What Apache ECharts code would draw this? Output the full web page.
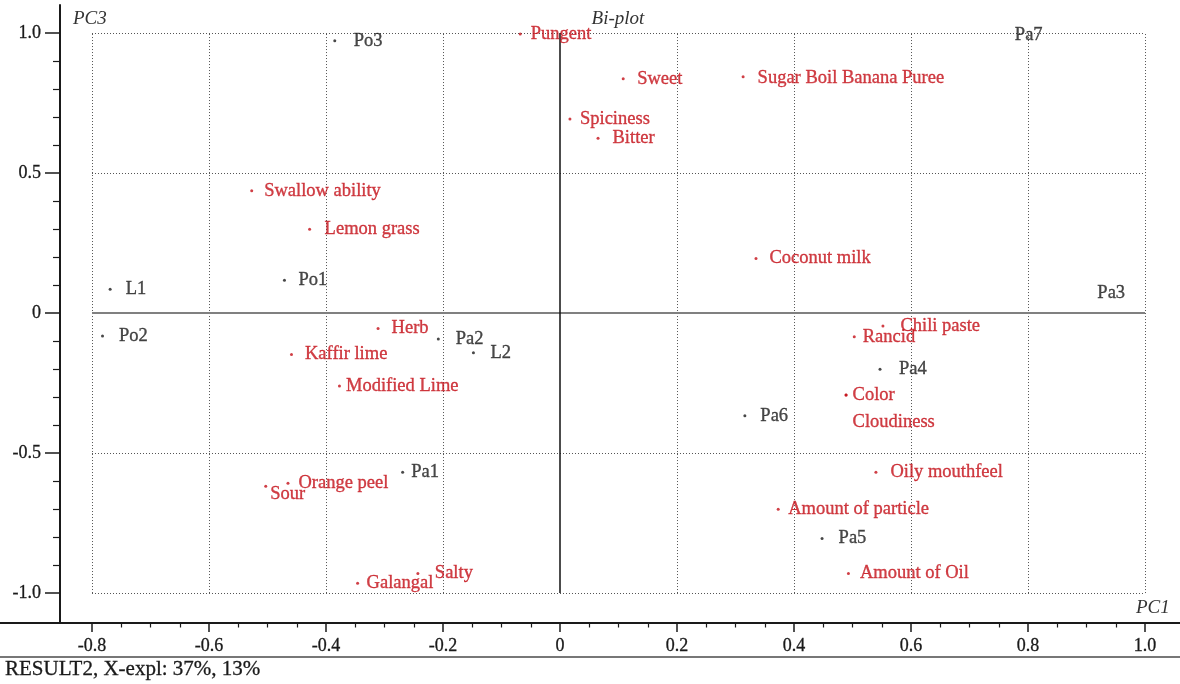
<!DOCTYPE html>
<html>
<head>
<meta charset="utf-8">
<script src="https://cdn.jsdelivr.net/npm/echarts@6/dist/echarts.min.js"></script>
<style>
  html, body { margin: 0; padding: 0; background: #fff; }
  #chart { width: 1180px; height: 684px; }
</style>
</head>
<body>
<div id="chart"></div>
<script>
// Axis ticks
const pc1Ticks = [-0.8, -0.6, -0.4, -0.2, 0, 0.2, 0.4, 0.6, 0.8, 1.0];
const pc3Ticks = [-1.0, -0.5, 0, 0.5, 1.0];

// Sample scores (PC1, PC3)
const sampleNames = ['L1', 'Po1', 'Po2', 'Po3', 'Pa1', 'Pa2', 'L2', 'Pa3', 'Pa4', 'Pa5', 'Pa6', 'Pa7'];
const samplePC1 = [-0.769, -0.471, -0.782, -0.385, -0.269, -0.208, -0.148, 0.898, 0.547, 0.448, 0.316, 0.757];
const samplePC3 = [0.085, 0.117, -0.082, 0.972, -0.569, -0.093, -0.142, 0.070, -0.201, -0.805, -0.367, 0.993];

// Sensory attribute loadings (PC1, PC3)
const attrNames = ['Pungent', 'Sweet', 'Sugar Boil Banana Puree', 'Spiciness', 'Bitter', 'Swallow ability',
  'Lemon grass', 'Coconut milk', 'Herb', 'Kaffir lime', 'Modified Lime', 'Chili paste', 'Rancid', 'Color',
  'Cloudiness', 'Oily mouthfeel', 'Orange peel', 'Sour', 'Amount of particle', 'Galangal', 'Salty', 'Amount of Oil'];
const attrPC1 = [-0.068, 0.108, 0.313, 0.017, 0.065, -0.527, -0.428, 0.335, -0.311, -0.459, -0.377, 0.552,
  0.503, 0.489, 0.489, 0.540, -0.465, -0.503, 0.373, -0.346, -0.243, 0.493];
const attrPC3 = [0.996, 0.837, 0.844, 0.693, 0.624, 0.437, 0.299, 0.195, -0.055, -0.148, -0.261, -0.046,
  -0.085, -0.293, -0.293, -0.569, -0.608, -0.619, -0.701, -0.965, -0.930, -0.930];

// Points whose marker is not drawn (label only)
const labelOnly = ['Pa3', 'Pa7'];

// Label placement tweaks (gap from marker in px, extra shift)
const labelGap = {
  'Po3': 17.5, 'L1': 14, 'Po1': 12.5, 'Po2': 15, 'Pa2': 16, 'L2': 15.5, 'Pa6': 14, 'Pa4': 17.5, 'Pa5': 15,
  'Pa1': 7, 'Swallow ability': 11, 'Pungent': 9, 'Sweet': 12.5, 'Sugar Boil Banana Puree': 13,
  'Spiciness': 8.5, 'Bitter': 13, 'Lemon grass': 13.5, 'Coconut milk': 12, 'Herb': 12, 'Kaffir lime': 12,
  'Modified Lime': 5, 'Chili paste': 16, 'Rancid': 7, 'Color': 5, 'Cloudiness': 5, 'Oily mouthfeel': 13,
  'Orange peel': 9, 'Sour': 3, 'Amount of particle': 8.5, 'Galangal': 7.5, 'Salty': 15.5, 'Amount of Oil': 10
};
const labelShift = { 'Sour': [0, 8], 'Cloudiness': [0, 27], 'Sugar Boil Banana Puree': [0, 1.5] };

const X_MIN = -0.8547, X_MAX = 1.0598;
const Y_MIN = -1.107, Y_MAX = 1.1;

const SERIF = '"Liberation Serif", "Times New Roman", serif';
const RED = '#c40f18';
const INK = '#1a1a1a';

function buildPoints(names, xs, ys) {
  return names.map((n, i) => {
    const item = { name: n, value: [xs[i], ys[i]] };
    item.label = { distance: labelGap[n] !== undefined ? labelGap[n] : 12 };
    if (labelOnly.includes(n)) item.symbolSize = 0;
    return item;
  });
}

function shiftLayout(names) {
  return function (params) {
    const s = labelShift[names[params.dataIndex]];
    return s ? { dx: s[0], dy: s[1], hideOverlap: false } : { hideOverlap: false };
  };
}

// minor tick positions between the labelled ticks
function minorTicks(ticks, parts) {
  const out = [];
  for (let i = 0; i < ticks.length - 1; i++) {
    const step = (ticks[i + 1] - ticks[i]) / parts;
    for (let k = 1; k < parts; k++) out.push(+(ticks[i] + step * k).toFixed(4));
  }
  return out;
}

const xLo = pc1Ticks[0], xHi = pc1Ticks[pc1Ticks.length - 1];
const yLo = pc3Ticks[0], yHi = pc3Ticks[pc3Ticks.length - 1];

const gridLines = [];
pc1Ticks.filter(v => v !== 0).forEach(v => gridLines.push([{ coord: [v, yLo] }, { coord: [v, yHi] }]));
pc3Ticks.filter(v => v !== 0).forEach(v => gridLines.push([{ coord: [xLo, v] }, { coord: [xHi, v] }]));

const fmt = v => (Math.abs(v) < 1e-9 ? '0' : v.toFixed(1));

const chart = echarts.init(document.getElementById('chart'), null, { renderer: 'canvas' });

const axisLabelBase = { fontFamily: SERIF, fontSize: 18, color: INK, textBorderColor: INK, textBorderWidth: 0.3 };

function pointLabel(color) {
  return {
    show: true, position: 'right', formatter: '{b}', fontFamily: SERIF, fontSize: 18.5,
    color: color, textBorderColor: color, textBorderWidth: 0.35
  };
}

chart.setOption({
  animation: false,
  backgroundColor: '#fff',
  grid: { left: 60, right: 0, top: 5, bottom: 61, containLabel: false },
  xAxis: [
    {
      type: 'value', min: X_MIN, max: X_MAX, position: 'bottom',
      axisLine: { show: true, onZero: false, lineStyle: { color: '#1a1a1a', width: 2 } },
      axisTick: { show: true, customValues: pc1Ticks, length: 9, lineStyle: { color: '#1a1a1a', width: 1.5 } },
      axisLabel: Object.assign({ show: true, customValues: pc1Ticks, formatter: fmt, margin: 14 }, axisLabelBase),
      splitLine: { show: false }
    },
    {
      type: 'value', min: X_MIN, max: X_MAX, position: 'bottom', offset: 0,
      axisLine: { show: false, onZero: false },
      axisTick: { show: true, customValues: minorTicks(pc1Ticks, 4), length: 4.5, lineStyle: { color: '#1a1a1a', width: 1.2 } },
      axisLabel: { show: false },
      splitLine: { show: false }
    }
  ],
  yAxis: [
    {
      type: 'value', min: Y_MIN, max: Y_MAX, position: 'left',
      axisLine: { show: true, onZero: false, lineStyle: { color: '#1a1a1a', width: 2 } },
      axisTick: { show: true, customValues: pc3Ticks, length: 15, lineStyle: { color: '#1a1a1a', width: 1.5 } },
      axisLabel: Object.assign({ show: true, customValues: pc3Ticks, formatter: fmt, margin: 19 }, axisLabelBase),
      splitLine: { show: false }
    },
    {
      type: 'value', min: Y_MIN, max: Y_MAX, position: 'left', offset: 0,
      axisLine: { show: false, onZero: false },
      axisTick: { show: true, customValues: minorTicks(pc3Ticks, 5), length: 7, lineStyle: { color: '#1a1a1a', width: 1.2 } },
      axisLabel: { show: false },
      splitLine: { show: false }
    }
  ],
  graphic: [
    { type: 'line', silent: true, shape: { x1: 0, y1: 623, x2: 60, y2: 623 }, style: { stroke: '#1a1a1a', lineWidth: 2 } },
    { type: 'line', silent: true, shape: { x1: 0, y1: 657, x2: 1180, y2: 657 }, style: { stroke: '#777', lineWidth: 2 } },
    { type: 'text', silent: true, x: 73, y: 19, style: { text: 'PC3', font: 'italic 19px ' + SERIF, fill: '#333', textAlign: 'left', textVerticalAlign: 'middle' } },
    { type: 'text', silent: true, x: 618, y: 19, style: { text: 'Bi-plot', font: 'italic 19px ' + SERIF, fill: '#333', textAlign: 'center', textVerticalAlign: 'middle' } },
    { type: 'text', silent: true, x: 1136, y: 608, style: { text: 'PC1', font: 'italic 19px ' + SERIF, fill: '#333', textAlign: 'left', textVerticalAlign: 'middle' } },
    { type: 'text', silent: true, x: 5, y: 669, style: { text: 'RESULT2, X-expl: 37%, 13%', font: '21px ' + SERIF, fill: INK, stroke: INK, lineWidth: 0.3, textAlign: 'left', textVerticalAlign: 'middle' } }
  ],
  series: [
    {
      name: 'grid', type: 'scatter', data: [], silent: true, z: 1,
      markLine: {
        silent: true, symbol: ['none', 'none'], label: { show: false },
        lineStyle: { color: '#555', width: 1, type: [1, 2] },
        emphasis: { disabled: true },
        data: gridLines
      }
    },
    {
      name: 'zero', type: 'scatter', data: [], silent: true, z: 2,
      markLine: {
        silent: true, symbol: ['none', 'none'], label: { show: false },
        emphasis: { disabled: true },
        data: [
          [{ coord: [xLo, 0], lineStyle: { color: '#808080', width: 2, type: 'solid' } }, { coord: [xHi, 0] }],
          [{ coord: [0, yLo], lineStyle: { color: '#111', width: 1.5, type: 'solid' } }, { coord: [0, yHi] }]
        ]
      }
    },
    {
      name: 'Samples', type: 'scatter', z: 5, symbol: 'circle', symbolSize: 3,
      itemStyle: { color: INK },
      label: pointLabel(INK),
      labelLayout: shiftLayout(sampleNames),
      emphasis: { disabled: true },
      data: buildPoints(sampleNames, samplePC1, samplePC3)
    },
    {
      name: 'Attributes', type: 'scatter', z: 5, symbol: 'circle', symbolSize: 3,
      itemStyle: { color: RED },
      label: pointLabel(RED),
      labelLayout: shiftLayout(attrNames),
      emphasis: { disabled: true },
      data: buildPoints(attrNames, attrPC1, attrPC3)
    }
  ]
});
</script>
</body>
</html>
